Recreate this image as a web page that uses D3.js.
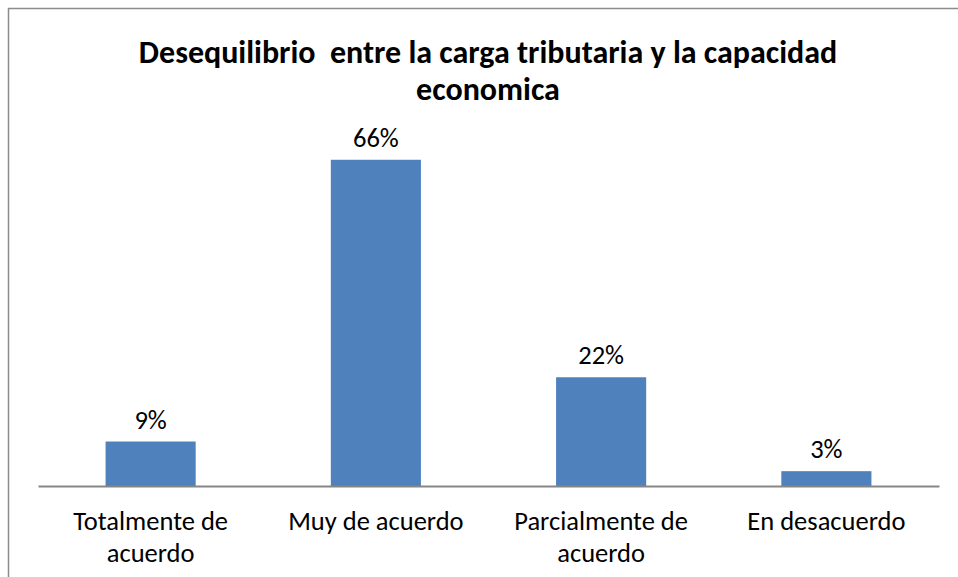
<!DOCTYPE html>
<html>
<head>
<meta charset="utf-8">
<script src="https://cdn.jsdelivr.net/npm/d3@7"></script>
<style>
  body { margin: 0; background: #fff; }
  svg { display: block; }
</style>
</head>
<body>
<svg width="958" height="577"></svg>
<script>
// datos del grafico
var categories = [["Totalmente de", "acuerdo"], ["Muy de acuerdo"], ["Parcialmente de", "acuerdo"], ["En desacuerdo"]];
var values = [9, 66, 22, 3];
var titleLines = ["Desequilibrio  entre la carga tributaria y la capacidad", "economica"];

var svg = d3.select("svg"),
    width = +svg.attr("width"),
    height = +svg.attr("height");

var font = "Carlito, Calibri, 'Open Sans', 'Noto Sans', sans-serif";

// marco del grafico
svg.append("rect")
    .attr("x", 8.5).attr("y", 8.5)
    .attr("width", 980).attr("height", 600)
    .attr("fill", "none")
    .attr("stroke", "#8c8c8c")
    .attr("stroke-width", 1.5);

var margin = {left: 38, right: 19, top: 140, bottom: 91};

var x = d3.scaleBand()
    .domain(d3.range(values.length))
    .range([margin.left, width - margin.right])
    .paddingInner(0.6)
    .paddingOuter(0.3);

var y = d3.scaleLinear()
    .domain([0, 70])
    .range([height - margin.bottom, margin.top]);

// barras
svg.append("g")
    .selectAll("rect")
    .data(values)
    .enter().append("rect")
    .attr("x", function(d, i) { return x(i); })
    .attr("y", function(d) { return y(d); })
    .attr("width", x.bandwidth())
    .attr("height", function(d) { return y(0) - y(d); })
    .attr("fill", "#4f81bd");

// eje x
var axis = svg.append("g")
    .attr("transform", "translate(0," + y(0) + ")")
    .call(d3.axisBottom(x).tickSize(0).tickFormat(""));
axis.select(".domain").attr("stroke", "#868686").attr("stroke-width", 2);

// etiquetas de categorias
var cat = svg.append("g")
    .selectAll("text")
    .data(categories)
    .enter().append("text")
    .attr("x", function(d, i) { return x(i) + x.bandwidth() / 2; })
    .attr("y", y(0) + 44)
    .attr("text-anchor", "middle")
    .style("font-family", font)
    .style("font-size", "26.5px")
    .attr("fill", "#000");
cat.selectAll("tspan")
    .data(function(d) { return d; })
    .enter().append("tspan")
    .attr("x", function() { return d3.select(this.parentNode).attr("x"); })
    .attr("dy", function(d, i) { return i === 0 ? 0 : 32; })
    .text(function(d) { return d; });

// etiquetas de valores
svg.append("g")
    .selectAll("text")
    .data(values)
    .enter().append("text")
    .attr("x", function(d, i) { return x(i) + x.bandwidth() / 2; })
    .attr("y", function(d) { return y(d) - 13; })
    .attr("text-anchor", "middle")
    .style("font-family", font)
    .style("font-size", "26.5px")
    .text(function(d) { return d + "%"; });

// titulo
svg.append("g")
    .selectAll("text")
    .data(titleLines)
    .enter().append("text")
    .attr("x", 488)
    .attr("y", function(d, i) { return 63 + i * 37; })
    .attr("text-anchor", "middle")
    .style("font-family", font)
    .style("font-size", "32px")
    .style("font-weight", "bold")
    .style("white-space", "pre")
    .text(function(d) { return d; });
</script>
</body>
</html>
